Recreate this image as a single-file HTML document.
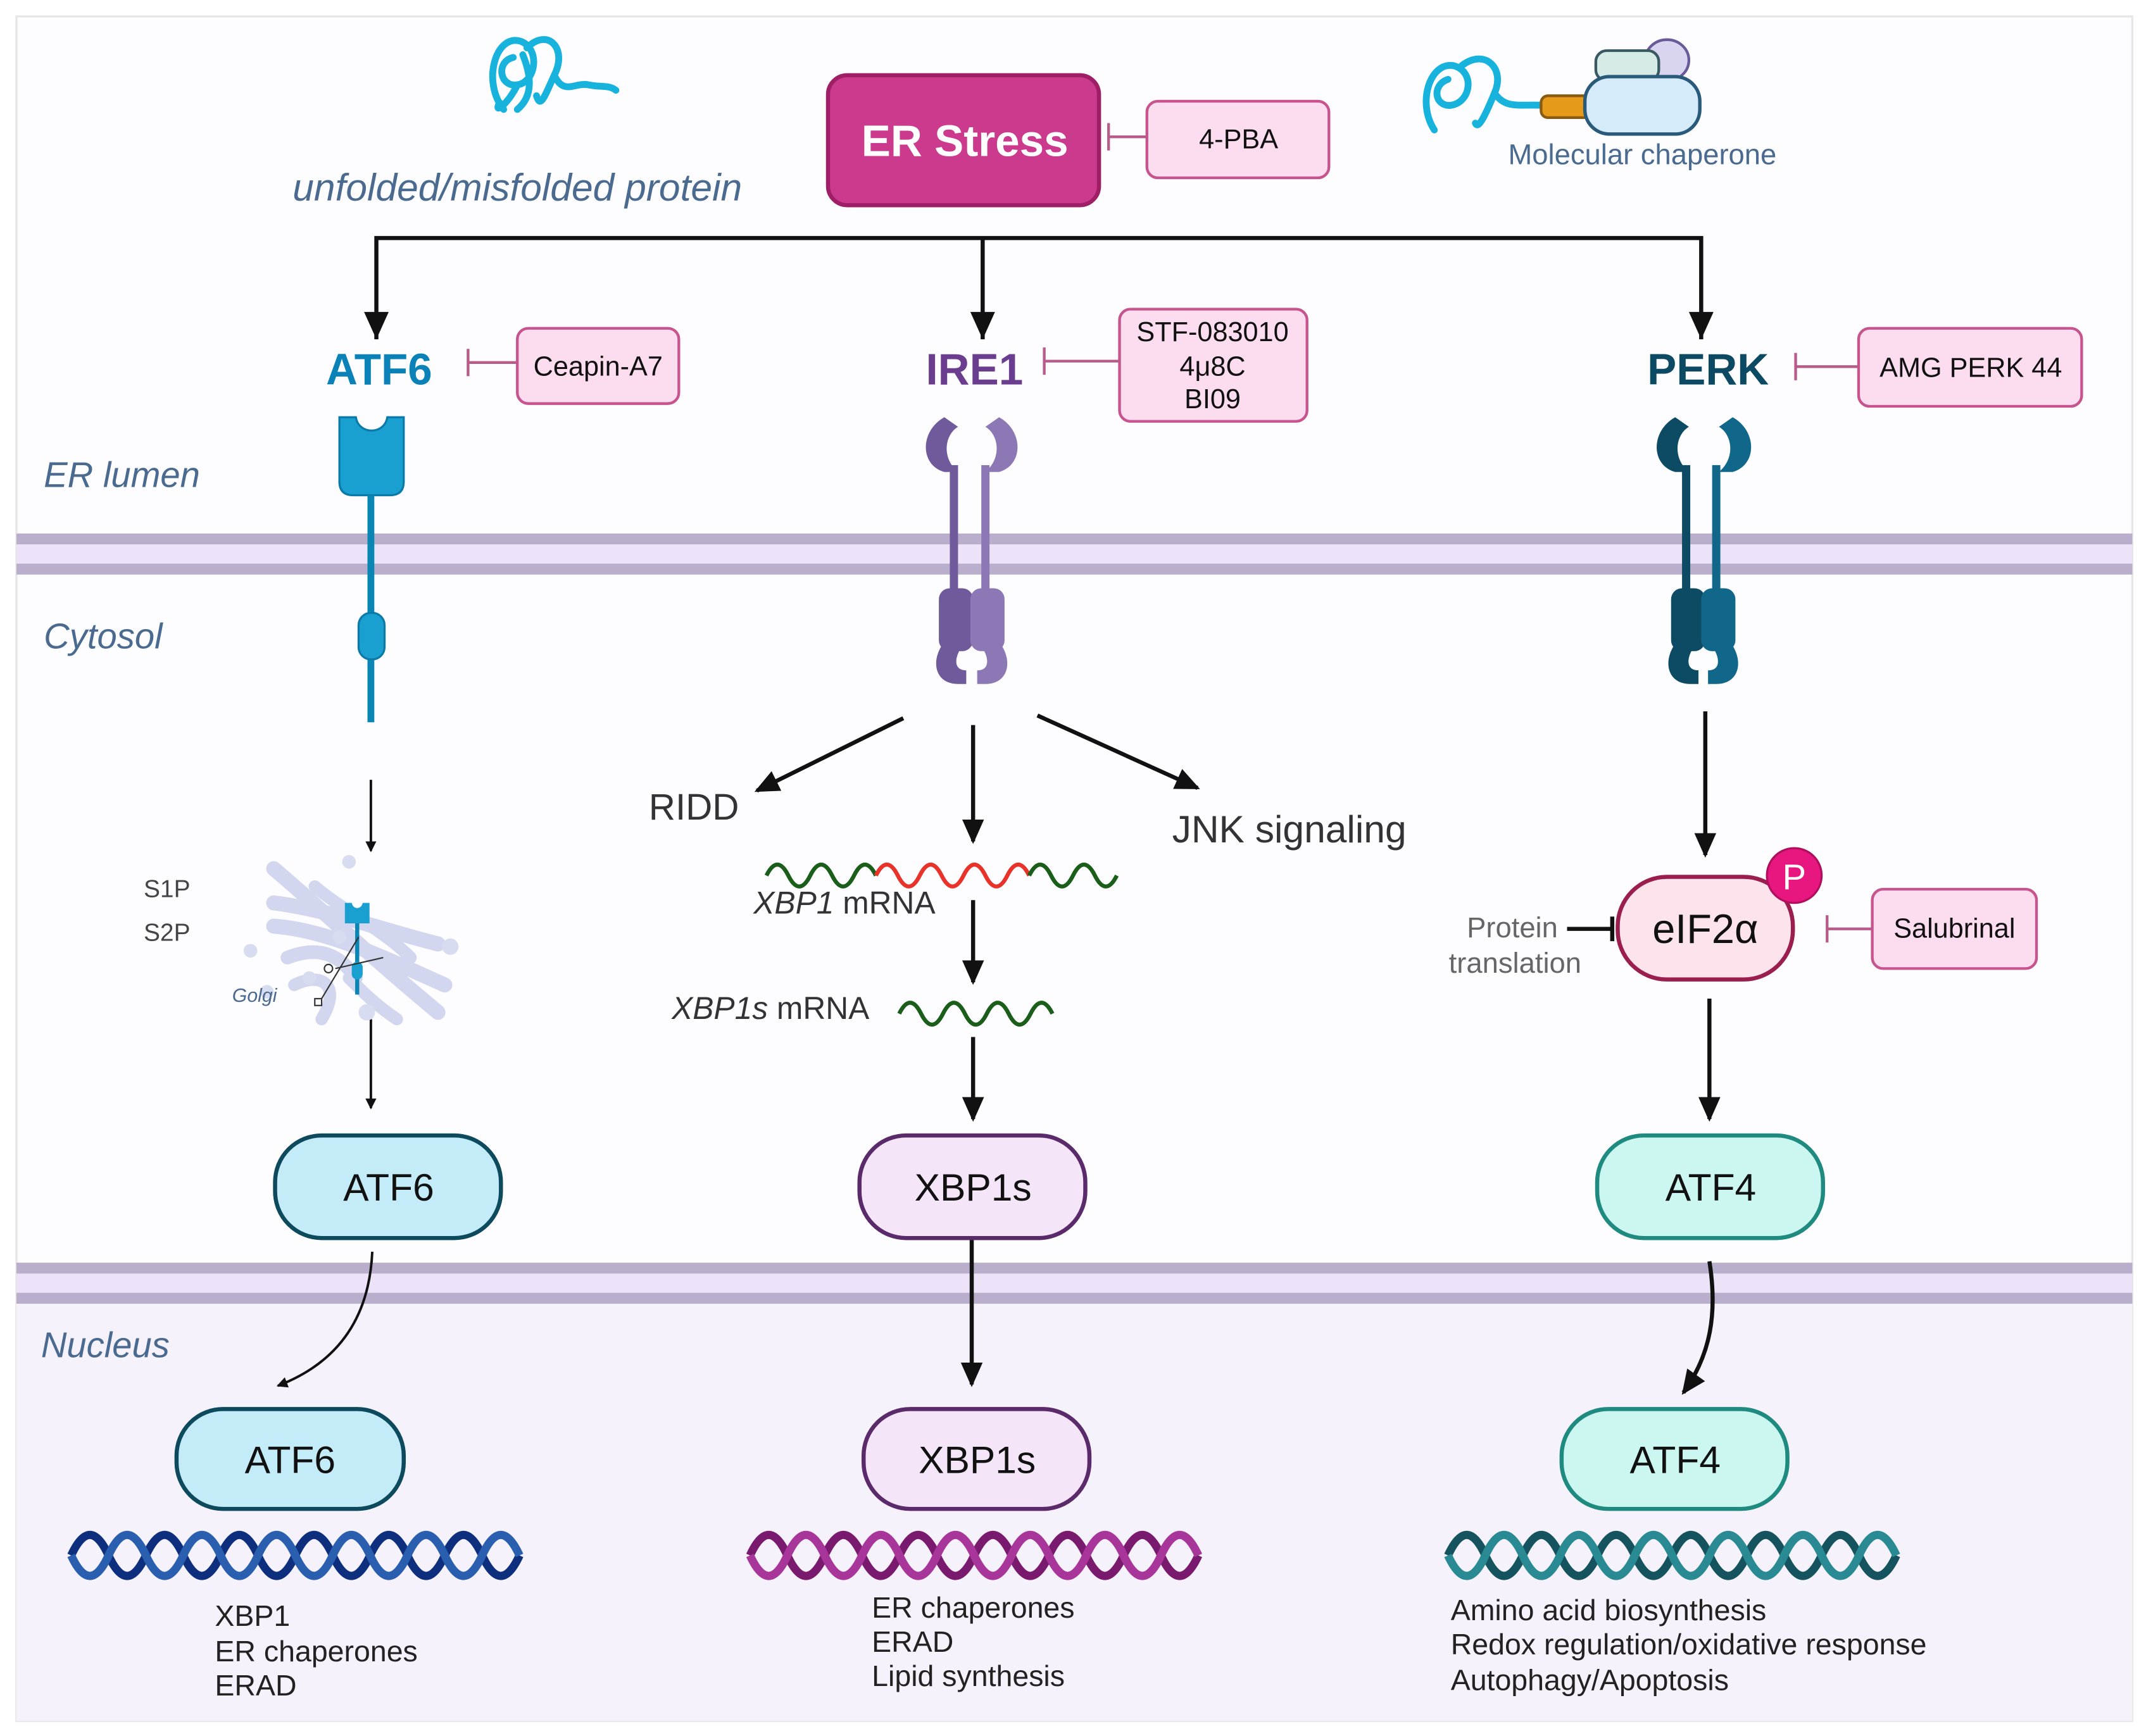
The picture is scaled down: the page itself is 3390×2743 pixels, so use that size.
<!DOCTYPE html>
<html><head><meta charset="utf-8"><style>
html,body{margin:0;padding:0;background:#fff}
svg{display:block}
text{font-family:"Liberation Sans",sans-serif}
</style></head><body>
<svg width="3390" height="2743" viewBox="0 0 1568 1269" preserveAspectRatio="none" xmlns="http://www.w3.org/2000/svg">
<defs>
<marker id="ah" markerWidth="8" markerHeight="8" refX="7" refY="4" orient="auto" markerUnits="userSpaceOnUse"><path d="M0,0 L8,4 L0,8 z" fill="#111"/></marker>
<marker id="ahb" markerWidth="18" markerHeight="16" refX="16" refY="8" orient="auto" markerUnits="userSpaceOnUse"><path d="M0,0 L18,8 L0,16 z" fill="#111"/></marker>
</defs>
<rect x="0" y="0" width="1568" height="1269" fill="#fff"/>
<rect x="12" y="12" width="1546" height="1246" fill="#fdfdff" stroke="#e6e6e6" stroke-width="1.5"/>
<rect x="12" y="953" width="1546" height="305" fill="#f6f2fc"/>
<rect x="12" y="390" width="1546" height="8" fill="#b9afcc"/>
<rect x="12" y="398" width="1546" height="14" fill="#ece3f9"/>
<rect x="12" y="412" width="1546" height="8" fill="#b9afcc"/>
<rect x="12" y="923" width="1546" height="8" fill="#b9afcc"/>
<rect x="12" y="931" width="1546" height="14" fill="#ece3f9"/>
<rect x="12" y="945" width="1546" height="8" fill="#b9afcc"/>

<g fill="none" stroke="#17b3dc" stroke-width="5" stroke-linecap="round">
<path d="M368,80 C352,60 362,25 380,30 C395,35 392,60 378,62 C365,64 362,45 375,42"/>
<path d="M378,62 C372,75 360,85 365,75"/>
<path d="M385,35 C400,20 415,35 405,55 C398,70 395,80 392,70"/>
<path d="M405,55 C412,70 420,60 430,62 C440,64 445,62 450,66"/>
<path d="M382,40 C388,55 390,70 378,80"/>
</g>
<g fill="none" stroke="#17b3dc" stroke-width="5" stroke-linecap="round">
<path d="M1048,95 C1035,75 1045,45 1062,48 C1078,52 1075,75 1060,77 C1048,78 1046,62 1058,58"/>
<path d="M1068,48 C1085,35 1100,50 1092,68 C1085,85 1080,95 1078,90"/>
<path d="M1092,68 C1100,80 1110,76 1128,77"/>
</g>
<rect x="1126" y="70" width="36" height="16" rx="5" fill="#e59a1a" stroke="#8a5a10" stroke-width="2"/>
<ellipse cx="1218" cy="44" rx="16" ry="15" fill="#d9d4f0" stroke="#6a5a9a" stroke-width="2"/>
<rect x="1166" y="37" width="46" height="22" rx="8" fill="#d6ebe6" stroke="#3a5a62" stroke-width="2"/>
<rect x="1158" y="56" width="84" height="42" rx="18" fill="#d6ebfa" stroke="#2a5a7a" stroke-width="2.5"/>
<text x="1200" y="113" font-size="21" fill="#4a6a8f" text-anchor="middle" dominant-baseline="central">Molecular chaperone</text>
<text x="378" y="137" font-size="28" font-style="italic" fill="#4a6a8f" text-anchor="middle" dominant-baseline="central">unfolded/misfolded protein</text>

<rect x="605" y="55" width="198" height="95" rx="14" fill="#cc3a8e" stroke="#9e1f66" stroke-width="3"/>
<text x="705" y="103" font-size="32" font-weight="bold" fill="#fff" text-anchor="middle" dominant-baseline="central">ER Stress</text>
<rect x="838" y="74" width="133" height="56" rx="8" fill="#fcdcef" stroke="#c7538f" stroke-width="2"/>
<text x="905" y="102" font-size="20" fill="#111" text-anchor="middle" dominant-baseline="central">4-PBA</text>
<g stroke="#b85a8a" stroke-width="2"><line x1="838" y1="100" x2="810" y2="100"/><line x1="810" y1="90" x2="810" y2="110"/></g>

<g stroke="#111" stroke-width="3" fill="none">
<path d="M275,248 V174 H1243 V248"/>
<line x1="718" y1="174" x2="718" y2="248"/>
</g>
<g fill="#111">
<path d="M266,228 L284,228 L275,248 z"/><path d="M709,228 L727,228 L718,248 z"/><path d="M1234,228 L1252,228 L1243,248 z"/>
</g>

<text x="277" y="270" font-size="32" font-weight="bold" fill="#0a82b8" text-anchor="middle" dominant-baseline="central">ATF6</text>
<text x="712" y="270" font-size="32" font-weight="bold" fill="#6a3d8f" text-anchor="middle" dominant-baseline="central">IRE1</text>
<text x="1248" y="270" font-size="32" font-weight="bold" fill="#0c4a63" text-anchor="middle" dominant-baseline="central">PERK</text>

<rect x="378" y="240" width="118" height="55" rx="8" fill="#fcdcef" stroke="#c7538f" stroke-width="2"/>
<text x="437" y="268" font-size="20" fill="#111" text-anchor="middle" dominant-baseline="central">Ceapin-A7</text>
<g stroke="#b85a8a" stroke-width="2"><line x1="378" y1="265" x2="342" y2="265"/><line x1="342" y1="255" x2="342" y2="275"/></g>

<rect x="818" y="226" width="137" height="82" rx="8" fill="#fcdcef" stroke="#c7538f" stroke-width="2"/>
<text x="886" y="243" font-size="20" fill="#111" text-anchor="middle" dominant-baseline="central">STF-083010</text>
<text x="886" y="268" font-size="20" fill="#111" text-anchor="middle" dominant-baseline="central">4μ8C</text>
<text x="886" y="292" font-size="20" fill="#111" text-anchor="middle" dominant-baseline="central">BI09</text>
<g stroke="#b85a8a" stroke-width="2"><line x1="818" y1="264" x2="763" y2="264"/><line x1="763" y1="254" x2="763" y2="274"/></g>

<rect x="1358" y="240" width="163" height="57" rx="8" fill="#fcdcef" stroke="#c7538f" stroke-width="2"/>
<text x="1440" y="269" font-size="20" fill="#111" text-anchor="middle" dominant-baseline="central">AMG PERK 44</text>
<g stroke="#b85a8a" stroke-width="2"><line x1="1358" y1="268" x2="1312" y2="268"/><line x1="1312" y1="258" x2="1312" y2="278"/></g>

<text x="32" y="347" font-size="26" font-style="italic" fill="#4a6a8f" dominant-baseline="central">ER lumen</text>
<text x="32" y="465" font-size="26" font-style="italic" fill="#4a6a8f" dominant-baseline="central">Cytosol</text>
<text x="30" y="983" font-size="26" font-style="italic" fill="#4a6a8f" dominant-baseline="central">Nucleus</text>

<path d="M248,305 L260,305 C262,318 281,318 283,305 L295,305 L295,352 Q295,362 285,362 L258,362 Q248,362 248,352 z" fill="#1aa0d0" stroke="#0a7aa8" stroke-width="1.5"/>
<line x1="271" y1="362" x2="271" y2="528" stroke="#0a86b5" stroke-width="5"/>
<rect x="262" y="448" width="19" height="34" rx="9" fill="#1aa0d0" stroke="#0a7aa8" stroke-width="1.5"/>

<g>
<path d="M690,305 C672,315 672,340 690,345 L700,345 C688,335 690,318 700,312 z" fill="#6f5a9c"/>
<path d="M730,305 C748,315 748,340 730,345 L720,345 C732,335 730,318 720,312 z" fill="#8c78b5"/>
<rect x="694" y="340" width="6" height="92" fill="#6f5a9c"/>
<rect x="717" y="340" width="6" height="92" fill="#8c78b5"/>
<rect x="686" y="430" width="25" height="46" rx="8" fill="#6f5a9c"/>
<rect x="709" y="430" width="25" height="46" rx="8" fill="#8c78b5"/>
<path d="M688,472 C680,485 684,500 700,500 L706,500 L706,490 C696,490 698,480 702,474 z" fill="#6f5a9c"/>
<path d="M732,472 C740,485 736,500 720,500 L714,500 L714,490 C724,490 722,480 718,474 z" fill="#8c78b5"/>
</g>
<g>
<path d="M1224,305 C1206,315 1206,340 1224,345 L1234,345 C1222,335 1224,318 1234,312 z" fill="#0d4a63"/>
<path d="M1266,305 C1284,315 1284,340 1266,345 L1256,345 C1268,335 1266,318 1256,312 z" fill="#11678a"/>
<rect x="1229" y="340" width="6" height="92" fill="#0d4a63"/>
<rect x="1251" y="340" width="6" height="92" fill="#11678a"/>
<rect x="1221" y="430" width="25" height="46" rx="8" fill="#0d4a63"/>
<rect x="1243" y="430" width="25" height="46" rx="8" fill="#11678a"/>
<path d="M1223,472 C1215,485 1219,500 1235,500 L1241,500 L1241,490 C1231,490 1233,480 1237,474 z" fill="#0d4a63"/>
<path d="M1266,472 C1274,485 1270,500 1254,500 L1248,500 L1248,490 C1258,490 1256,480 1252,474 z" fill="#11678a"/>
</g>

<g stroke="#111" stroke-width="3" fill="none" marker-end="url(#ahb)">
<line x1="660" y1="525" x2="553" y2="578"/>
<line x1="711" y1="530" x2="711" y2="615"/>
<line x1="758" y1="523" x2="875" y2="576"/>
<line x1="711" y1="658" x2="711" y2="718"/>
<line x1="711" y1="758" x2="711" y2="818"/>
<line x1="710" y1="905" x2="710" y2="1012"/>
<line x1="1246" y1="520" x2="1246" y2="625"/>
<line x1="1249" y1="730" x2="1249" y2="818"/>
<path d="M1249,922 C1255,960 1250,990 1230,1018"/>
</g>
<text x="507" y="590" font-size="27" fill="#333" text-anchor="middle" dominant-baseline="central">RIDD</text>
<text x="942" y="606" font-size="28" fill="#333" text-anchor="middle" dominant-baseline="central">JNK signaling</text>

<path d="M560,640 q8,-16 16,0 t16,0 t16,0 t16,0 t16,0" fill="none" stroke="#1a5e1a" stroke-width="3"/>
<path d="M640,640 q8,-16 16,0 t16,0 t16,0 t16,0 t16,0 t16,0 t16,0" fill="none" stroke="#e8332a" stroke-width="3"/>
<path d="M752,640 q8,-16 16,0 t16,0 t16,0 t16,0" fill="none" stroke="#1a5e1a" stroke-width="3"/>
<text x="617" y="660" font-size="23" fill="#333" text-anchor="middle" dominant-baseline="central"><tspan font-style="italic">XBP1</tspan> mRNA</text>
<text x="563" y="737" font-size="23" fill="#333" text-anchor="middle" dominant-baseline="central"><tspan font-style="italic">XBP1s</tspan> mRNA</text>
<path d="M657,741 q8,-16 16,0 t16,0 t16,0 t16,0 t16,0 t16,0 t16,0" fill="none" stroke="#1a5e1a" stroke-width="3"/>

<g stroke="#111" stroke-width="1.8" fill="none" marker-end="url(#ah)">
<line x1="271" y1="570" x2="271" y2="622"/>
<line x1="271" y1="745" x2="271" y2="810"/>
<path d="M272,915 C270,960 250,995 203,1013"/>
</g>
<g stroke="#d2d6ee" stroke-linecap="round" fill="none">
<path d="M200,635 C230,660 260,690 320,740" stroke-width="11"/>
<path d="M230,648 C250,665 280,680 300,700" stroke-width="9"/>
<path d="M200,660 C240,665 280,680 320,690" stroke-width="11"/>
<path d="M200,677 C240,680 280,700 325,720" stroke-width="11"/>
<path d="M210,700 C235,690 250,700 260,715" stroke-width="10"/>
<path d="M215,720 C235,710 250,720 235,745" stroke-width="9"/>
<path d="M255,715 C265,725 275,735 290,745" stroke-width="9"/>
</g>
<g fill="#d8dcf0"><circle cx="248" cy="685" r="5"/><circle cx="195" cy="725" r="5"/><circle cx="329" cy="692" r="6"/><circle cx="183" cy="695" r="5"/><circle cx="226" cy="715" r="5"/><circle cx="268" cy="740" r="6"/><circle cx="255" cy="630" r="5"/></g>
<path d="M252,660 L257,660 C258,665 264,665 265,660 L270,660 L270,675 L252,675 z" fill="#1aa0d0"/>
<line x1="261" y1="675" x2="261" y2="727" stroke="#0a86b5" stroke-width="3"/>
<rect x="257" y="703" width="8" height="13" rx="4" fill="#1aa0d0"/>
<g stroke="#333" stroke-width="1" fill="none"><line x1="262" y1="685" x2="235" y2="730"/><line x1="245" y1="708" x2="280" y2="700"/><circle cx="240" cy="708" r="3"/><rect x="230" y="730" width="5" height="5"/></g>
<text x="122" y="650" font-size="18" fill="#444" text-anchor="middle" dominant-baseline="central">S1P</text>
<text x="122" y="682" font-size="18" fill="#444" text-anchor="middle" dominant-baseline="central">S2P</text>
<text x="186" y="728" font-size="14" font-style="italic" fill="#4a6a8f" text-anchor="middle" dominant-baseline="central">Golgi</text>

<rect x="201" y="830" width="165" height="75" rx="34" fill="#c3ecf8" stroke="#0d4a5e" stroke-width="3"/>
<text x="284" y="868" font-size="28" fill="#111" text-anchor="middle" dominant-baseline="central">ATF6</text>
<rect x="628" y="830" width="165" height="75" rx="34" fill="#f4e6f8" stroke="#5a2a6a" stroke-width="3"/>
<text x="711" y="868" font-size="28" fill="#111" text-anchor="middle" dominant-baseline="central">XBP1s</text>
<rect x="1167" y="830" width="165" height="75" rx="34" fill="#ccf6f0" stroke="#1f8a80" stroke-width="3"/>
<text x="1250" y="868" font-size="28" fill="#111" text-anchor="middle" dominant-baseline="central">ATF4</text>
<rect x="129" y="1030" width="166" height="73" rx="34" fill="#c3ecf8" stroke="#0d4a5e" stroke-width="3"/>
<text x="212" y="1067" font-size="28" fill="#111" text-anchor="middle" dominant-baseline="central">ATF6</text>
<rect x="631" y="1030" width="165" height="73" rx="34" fill="#f4e6f8" stroke="#5a2a6a" stroke-width="3"/>
<text x="714" y="1067" font-size="28" fill="#111" text-anchor="middle" dominant-baseline="central">XBP1s</text>
<rect x="1141" y="1030" width="165" height="73" rx="34" fill="#ccf6f0" stroke="#1f8a80" stroke-width="3"/>
<text x="1224" y="1067" font-size="28" fill="#111" text-anchor="middle" dominant-baseline="central">ATF4</text>

<rect x="1182" y="641" width="128" height="75" rx="36" fill="#fde3ec" stroke="#9a1f4e" stroke-width="3"/>
<text x="1246" y="679" font-size="30" fill="#111" text-anchor="middle" dominant-baseline="central">eIF2α</text>
<circle cx="1311" cy="640" r="20" fill="#e8177f" stroke="#b00f5e" stroke-width="1.5"/>
<text x="1311" y="641" font-size="26" fill="#fff" text-anchor="middle" dominant-baseline="central">P</text>
<text x="1105" y="678" font-size="21" fill="#666" text-anchor="middle" dominant-baseline="central">Protein</text>
<text x="1107" y="704" font-size="21" fill="#666" text-anchor="middle" dominant-baseline="central">translation</text>
<g stroke="#111" stroke-width="3"><line x1="1145" y1="679" x2="1178" y2="679"/><line x1="1178" y1="670" x2="1178" y2="688"/></g>
<rect x="1368" y="650" width="120" height="58" rx="8" fill="#fcdcef" stroke="#c7538f" stroke-width="2"/>
<text x="1428" y="679" font-size="20" fill="#111" text-anchor="middle" dominant-baseline="central">Salubrinal</text>
<g stroke="#b85a8a" stroke-width="2"><line x1="1368" y1="679" x2="1335" y2="679"/><line x1="1335" y1="669" x2="1335" y2="689"/></g>

<g fill="none" stroke-width="6">
<path d="M52,1137 q13.7,-30 27.3,0 t27.3,0 t27.3,0 t27.3,0 t27.3,0 t27.3,0 t27.3,0 t27.3,0 t27.3,0 t27.3,0 t27.3,0 t27.3,0" stroke="#0d2f7e"/>
<path d="M52,1137 q13.7,30 27.3,0 t27.3,0 t27.3,0 t27.3,0 t27.3,0 t27.3,0 t27.3,0 t27.3,0 t27.3,0 t27.3,0 t27.3,0 t27.3,0" stroke="#2a5fb0"/>
<path d="M548,1137 q13.7,-30 27.3,0 t27.3,0 t27.3,0 t27.3,0 t27.3,0 t27.3,0 t27.3,0 t27.3,0 t27.3,0 t27.3,0 t27.3,0 t27.3,0" stroke="#7a1a6e"/>
<path d="M548,1137 q13.7,30 27.3,0 t27.3,0 t27.3,0 t27.3,0 t27.3,0 t27.3,0 t27.3,0 t27.3,0 t27.3,0 t27.3,0 t27.3,0 t27.3,0" stroke="#a8369a"/>
<path d="M1058,1137 q13.7,-30 27.3,0 t27.3,0 t27.3,0 t27.3,0 t27.3,0 t27.3,0 t27.3,0 t27.3,0 t27.3,0 t27.3,0 t27.3,0 t27.3,0" stroke="#15545e"/>
<path d="M1058,1137 q13.7,30 27.3,0 t27.3,0 t27.3,0 t27.3,0 t27.3,0 t27.3,0 t27.3,0 t27.3,0 t27.3,0 t27.3,0 t27.3,0 t27.3,0" stroke="#2a8a94"/>
</g>

<g font-size="21.5" fill="#222" dominant-baseline="central">
<text x="157" y="1181">XBP1</text><text x="157" y="1207">ER chaperones</text><text x="157" y="1232">ERAD</text>
<text x="637" y="1175">ER chaperones</text><text x="637" y="1200">ERAD</text><text x="637" y="1225">Lipid synthesis</text>
<text x="1060" y="1177">Amino acid biosynthesis</text><text x="1060" y="1202">Redox regulation/oxidative response</text><text x="1060" y="1228">Autophagy/Apoptosis</text>
</g>
</svg>
</body></html>
